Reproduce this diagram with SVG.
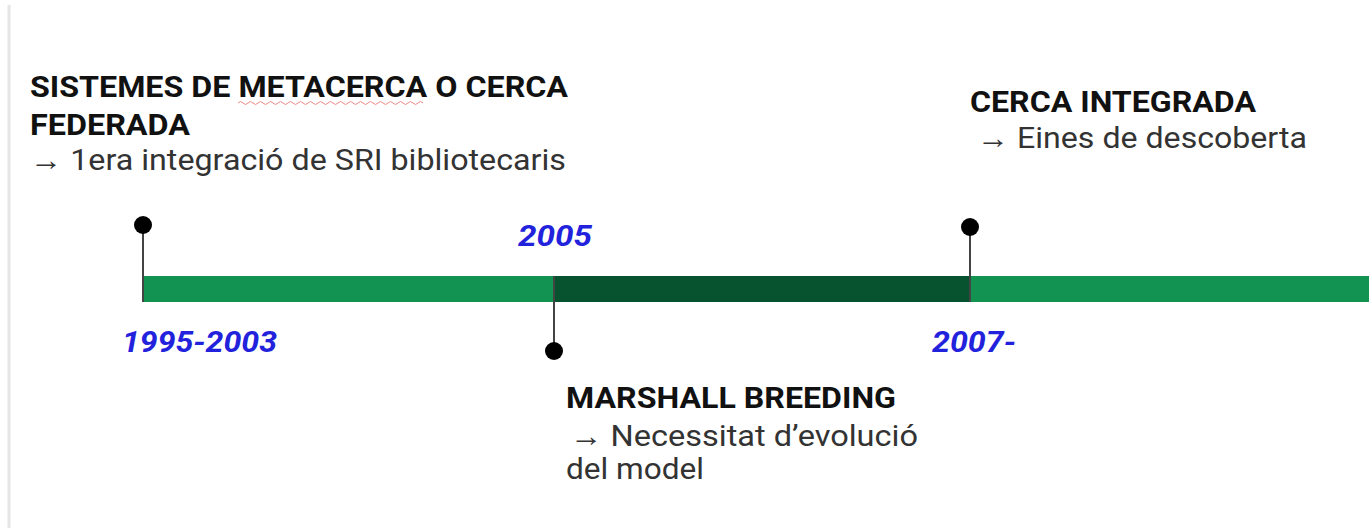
<svg xmlns="http://www.w3.org/2000/svg" width="1369" height="528" viewBox="0 0 1369 528">
<style>
.h{font-family:Roboto,"Liberation Sans",sans-serif;font-weight:bold;font-size:30px;fill:#111}
.b{font-family:Roboto,"Liberation Sans",sans-serif;font-size:30px;fill:#333}
.y{font-family:Roboto,"Liberation Sans",sans-serif;font-weight:bold;font-style:italic;font-size:30px;fill:#2222dd}
.stem{stroke:#444;stroke-width:2}
.dot{fill:#000}
</style>
<rect width="1369" height="528" fill="#fff"/>
<line x1="9" y1="5" x2="9" y2="528" stroke="#e6e6e6" stroke-width="3"/>
<g id="bar">
<rect x="143" y="276" width="1226" height="26" fill="#129352"/>
<rect x="554" y="276" width="416" height="26" fill="#07532f"/>
</g>
<g id="connectors">
<line class="stem" x1="143" y1="225" x2="143" y2="302"/>
<line class="stem" x1="554" y1="276" x2="554" y2="351"/>
<line class="stem" x1="970" y1="227" x2="970" y2="302"/>
</g>
<g id="pin1"><circle class="dot" cx="143" cy="225" r="9"/></g>
<g id="pin2"><circle class="dot" cx="554" cy="351" r="9"/></g>
<g id="pin3"><circle class="dot" cx="970" cy="227" r="9"/></g>
<g id="event1">
<text class="h" x="30" y="97" textLength="538" lengthAdjust="spacingAndGlyphs">SISTEMES DE METACERCA O CERCA</text>
<path d="M238 103 q2.5 -3 5 0 t5 0 t5 0 t5 0 t5 0 t5 0 t5 0 t5 0 t5 0 t5 0 t5 0 t5 0 t5 0 t5 0 t5 0 t5 0 t5 0 t5 0 t5 0 t5 0 t5 0 t5 0 t5 0 t5 0 t5 0 t5 0 t5 0 t5 0 t5 0 t5 0 t5 0 t5 0 t5 0 t5 0 t5 0 t5 0 t5 0" fill="none" stroke="#e88" stroke-width="1"/>
<text class="h" x="30" y="135" textLength="160" lengthAdjust="spacingAndGlyphs">FEDERADA</text>
<text class="b" x="30" y="170" textLength="536" lengthAdjust="spacingAndGlyphs">→ 1era integració de SRI bibliotecaris</text>
</g>
<g id="event2">
<text class="h" x="566" y="408" textLength="330" lengthAdjust="spacingAndGlyphs">MARSHALL BREEDING</text>
<text class="b" x="570" y="446" textLength="348" lengthAdjust="spacingAndGlyphs">→ Necessitat d’evolució</text>
<text class="b" x="566" y="479" textLength="138" lengthAdjust="spacingAndGlyphs">del model</text>
</g>
<g id="event3">
<text class="h" x="970" y="112" textLength="286" lengthAdjust="spacingAndGlyphs">CERCA INTEGRADA</text>
<text class="b" x="977" y="148" textLength="330" lengthAdjust="spacingAndGlyphs">→ Eines de descoberta</text>
</g>
<g id="years">
<text class="y" x="122" y="352" textLength="155" lengthAdjust="spacingAndGlyphs">1995-2003</text>
<text class="y" x="518" y="246" textLength="74" lengthAdjust="spacingAndGlyphs">2005</text>
<text class="y" x="932" y="352" textLength="84" lengthAdjust="spacingAndGlyphs">2007-</text>
</g>
</svg>
